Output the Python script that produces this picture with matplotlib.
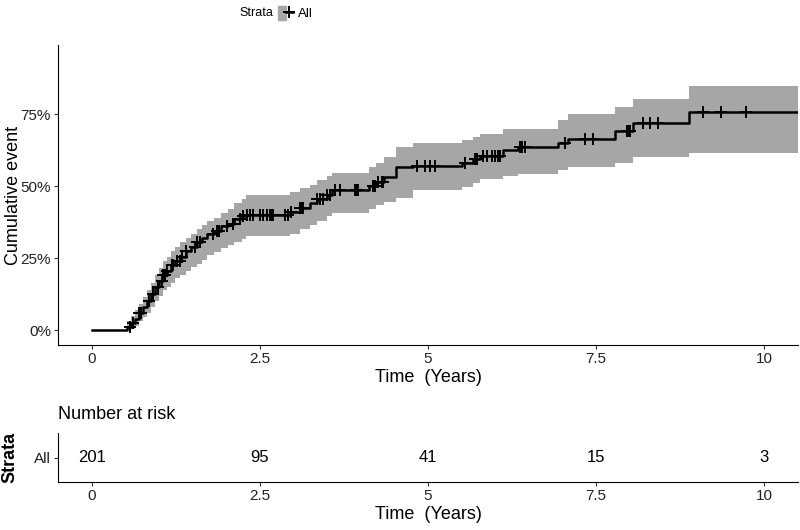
import numpy as np
import matplotlib
matplotlib.use("Agg")
import matplotlib.pyplot as plt
from matplotlib.lines import Line2D
from matplotlib.patches import Patch
from matplotlib.legend_handler import HandlerTuple

plt.rcParams['font.family'] = ['Liberation Sans', 'DejaVu Sans']

# cumulative incidence step curve with 95% CI
step_time = [0, 0.52, 0.58, 0.64, 0.70, 0.76, 0.82, 0.88, 0.94, 1.00, 1.06, 1.12, 1.18, 1.24,
             1.32, 1.40, 1.48, 1.56, 1.64, 1.72, 1.82, 1.92, 2.02, 2.12, 2.24, 2.30, 2.95, 3.10,
             3.25, 3.35, 3.50, 3.58, 4.12, 4.22, 4.35, 4.52, 4.78, 5.50, 5.67, 5.77, 6.12, 6.34,
             6.93, 7.08, 7.78, 8.05, 8.88, 10.5]
cum_event = [0, 0.01, 0.025, 0.04, 0.06, 0.08, 0.10, 0.125, 0.15, 0.17, 0.19, 0.205, 0.225, 0.24,
             0.255, 0.275, 0.29, 0.305, 0.32, 0.335, 0.345, 0.36, 0.37, 0.385, 0.395, 0.40, 0.41, 0.425,
             0.44, 0.455, 0.47, 0.485, 0.50, 0.515, 0.53, 0.565, 0.57, 0.58, 0.595, 0.605, 0.625, 0.635,
             0.65, 0.665, 0.69, 0.72, 0.757, 0.757]
ci_lower = [0, 0.0, 0.005, 0.015, 0.03, 0.045, 0.06, 0.08, 0.10, 0.12, 0.14, 0.15, 0.165, 0.18,
            0.19, 0.205, 0.22, 0.23, 0.245, 0.26, 0.27, 0.285, 0.295, 0.305, 0.315, 0.325, 0.335, 0.35,
            0.365, 0.38, 0.395, 0.405, 0.42, 0.435, 0.445, 0.46, 0.486, 0.497, 0.51, 0.524, 0.535, 0.542,
            0.556, 0.566, 0.58, 0.60, 0.615, 0.615]
ci_upper = [0, 0.03, 0.05, 0.07, 0.09, 0.115, 0.14, 0.165, 0.19, 0.215, 0.24, 0.255, 0.275, 0.29,
            0.305, 0.32, 0.335, 0.35, 0.365, 0.38, 0.39, 0.405, 0.42, 0.44, 0.455, 0.47, 0.48, 0.495,
            0.505, 0.52, 0.535, 0.545, 0.565, 0.58, 0.60, 0.635, 0.649, 0.66, 0.67, 0.68, 0.698, 0.698,
            0.729, 0.75, 0.774, 0.802, 0.847, 0.847]

censor_time = [0.57, 0.61, 0.71, 0.74, 0.86, 0.91, 0.98, 1.04, 1.06, 1.09, 1.12, 1.19, 1.21, 1.27,
               1.31, 1.35, 1.41, 1.53, 1.56, 1.61, 1.80, 1.86, 1.90, 2.01, 2.10, 2.20, 2.25, 2.31,
               2.35, 2.40, 2.50, 2.54, 2.60, 2.65, 2.68, 2.69, 2.87, 2.92, 2.97, 3.10, 3.12, 3.14,
               3.35, 3.39, 3.44, 3.50, 3.54, 3.62, 3.69, 3.91, 3.94, 3.96, 4.18, 4.21, 4.26, 4.32,
               4.33, 4.84, 4.96, 5.03, 5.10, 5.55, 5.70, 5.73, 5.82, 5.88, 5.95, 6.00, 6.04, 6.07,
               6.37, 6.40, 6.44, 7.04, 7.34, 7.46, 7.96, 7.99, 8.01, 8.20, 8.30, 8.42, 9.09, 9.35, 9.72]

risk_time = [0, 2.5, 5, 7.5, 10]
n_at_risk = [201, 95, 41, 15, 3]

band_col = '#a6a6a6'

fig = plt.figure(figsize=(8, 5.3), dpi=100)
ax = fig.add_axes([0.0725, 0.349, 0.925, 0.566])

ax.fill_between(step_time, ci_lower, ci_upper, step='post', color=band_col, lw=0)
ax.step(step_time, cum_event, where='post', color='black', lw=1.8)
idx = np.searchsorted(step_time, censor_time, side='right') - 1
ax.plot(censor_time, np.array(cum_event)[idx], ls='none', marker='+', color='black', ms=8, mew=1.4)

ax.set_xlim(-0.5, 10.5)
ax.set_ylim(-0.052, 0.99)
ax.set_xticks(risk_time)
ax.set_xticklabels(['0', '2.5', '5', '7.5', '10'])
ax.set_yticks([0, 0.25, 0.5, 0.75])
ax.set_yticklabels(['0%', '25%', '50%', '75%'])
for s in ['top', 'right']:
    ax.spines[s].set_visible(False)
ax.tick_params(labelsize=11, length=3, pad=2, colors='#333333', labelcolor='#222222')
ax.set_xlabel('Time  (Years)', fontsize=13, labelpad=2)
ax.set_ylabel('Cumulative event', fontsize=13)
ax.yaxis.set_label_coords(-0.049, 0.5)

# legend on top
fig.text(0.321, 0.975, 'Strata', fontsize=9, ha='center', va='center')
handle = (Patch(color=band_col), Line2D([], [], color='black', lw=1.8, marker='+', ms=8, mew=1.4))
fig.legend([handle], ['All'], loc='center left', bbox_to_anchor=(0.348, 0.975), frameon=False,
           fontsize=9.5, handlelength=1.1, handleheight=1.2, handletextpad=0.4,
           borderpad=0, borderaxespad=0,
           handler_map={tuple: HandlerTuple(ndivide=None)})

# number at risk table
rt = fig.add_axes([0.0725, 0.09, 0.925, 0.093])
for t, n in zip(risk_time, n_at_risk):
    rt.text(t, 0, str(n), ha='center', va='center', fontsize=12)
rt.set_xlim(-0.5, 10.5)
rt.set_ylim(-0.5, 0.5)
rt.set_xticks(risk_time)
rt.set_xticklabels(['0', '2.5', '5', '7.5', '10'])
rt.set_yticks([0])
rt.set_yticklabels(['All'])
for s in ['top', 'right']:
    rt.spines[s].set_visible(False)
rt.tick_params(labelsize=11, length=3, pad=2, colors='#333333', labelcolor='#222222')
rt.set_xlabel('Time  (Years)', fontsize=13, labelpad=2)
rt.set_ylabel('Strata', fontsize=13, fontweight='bold')
rt.yaxis.set_label_coords(-0.054, 0.5)
fig.text(0.0725, 0.217, 'Number at risk', fontsize=13, ha='left', va='center')

fig.savefig('out.png', dpi=100)
